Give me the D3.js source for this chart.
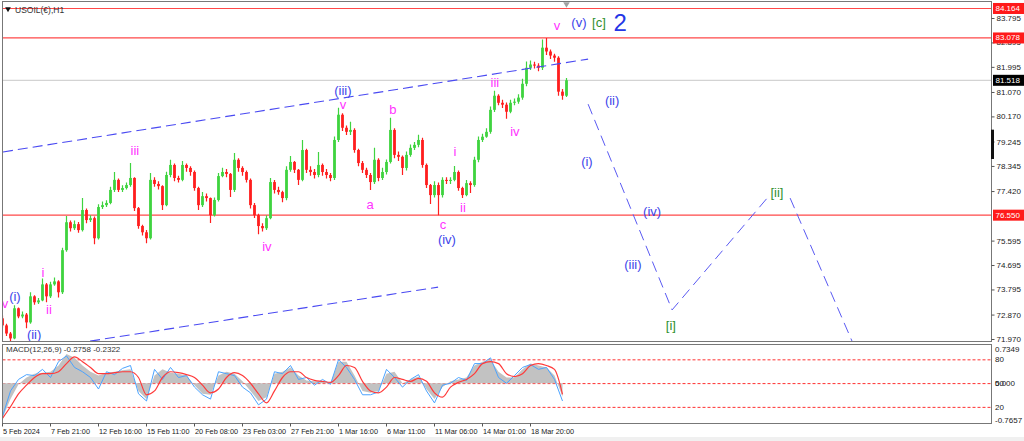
<!DOCTYPE html>
<html><head><meta charset="utf-8">
<script src="https://cdn.jsdelivr.net/npm/d3@7"></script>
<style>html,body{margin:0;padding:0;background:#fff;}svg{display:block;}</style>
</head><body>
<svg id="c" width="1024" height="441"></svg>
<script>
// ---------- DATA ----------
const firstOpen = 72.75;
const closes = [72.49,72.19,72.01,73.12,72.82,72.89,72.60,73.56,73.34,73.41,
74.00,73.56,74.00,74.11,73.71,75.26,76.29,76.07,76.22,76.00,
76.74,76.37,76.44,75.70,76.85,76.92,77.00,77.48,77.85,77.48,
77.55,77.66,77.92,76.81,76.15,75.92,75.70,77.85,77.70,77.62,
76.92,78.03,78.40,77.92,77.85,78.40,78.29,78.14,77.55,76.92,
77.25,77.18,76.55,77.11,77.99,78.14,78.07,77.48,78.59,78.29,
78.14,77.85,76.92,76.55,76.15,76.07,76.44,77.77,77.48,77.40,
77.18,78.22,78.51,78.22,77.85,78.95,78.22,78.14,78.03,78.40,
78.14,78.03,77.92,79.32,80.25,79.77,79.62,79.69,78.95,78.47,
78.22,78.03,77.77,78.59,77.92,78.14,78.51,79.69,78.77,78.70,
78.29,78.77,79.03,79.14,79.32,78.40,77.66,77.29,77.66,77.29,
77.85,77.81,77.85,78.14,77.55,77.29,77.73,77.66,78.59,79.32,
79.44,79.62,80.43,80.95,80.69,80.62,80.36,80.69,80.73,80.88,
81.39,81.98,82.10,82.06,81.98,82.72,82.58,82.43,82.35,81.10,
80.95,81.52];
const highs = [72.85,72.55,72.25,73.23,73.15,73.00,72.95,73.71,73.60,73.50,
74.22,74.05,74.10,74.25,74.15,75.35,76.52,76.35,76.35,76.30,
77.18,76.80,76.55,76.50,76.95,77.05,77.10,77.60,78.14,77.90,
77.65,77.75,78.47,77.95,76.85,76.20,76.00,78.10,77.95,77.80,
77.65,78.15,78.59,78.45,78.00,78.55,78.45,78.35,78.20,77.60,
77.40,77.35,77.20,77.20,78.10,78.30,78.25,78.10,78.84,78.65,
78.35,78.20,77.90,77.00,76.60,76.25,76.55,77.92,77.85,77.60,
77.45,78.35,78.73,78.55,78.25,79.32,79.00,78.35,78.25,78.88,
78.45,78.25,78.10,79.45,80.51,80.30,79.85,79.99,79.75,79.00,
78.55,78.30,78.10,79.03,78.65,78.30,78.60,80.14,79.75,78.90,
78.75,78.90,79.15,79.25,79.51,79.40,78.45,77.70,77.80,77.75,
77.95,77.95,77.95,78.36,78.20,77.60,77.85,77.80,78.70,79.45,
79.55,79.75,80.55,81.13,81.00,80.80,80.70,80.80,80.85,81.00,
81.58,82.21,82.25,82.20,82.15,83.02,83.08,82.65,82.50,82.40,
81.20,81.60];
const lows = [72.40,72.10,71.90,71.98,72.75,72.75,72.38,72.55,73.25,73.28,
73.38,73.34,73.50,73.95,73.52,73.65,75.20,75.95,76.00,75.90,
75.95,76.25,76.30,75.48,75.65,76.78,76.85,76.95,77.40,77.40,
77.40,77.50,77.60,76.70,76.05,75.80,75.52,75.65,77.60,77.50,
76.74,76.88,77.95,77.80,77.75,77.80,78.15,78.00,77.45,76.74,
76.85,77.05,76.26,76.50,77.05,77.95,77.95,77.22,77.40,78.15,
78.00,77.75,76.80,76.45,75.85,75.95,76.00,76.40,77.35,77.30,
77.03,77.10,78.15,78.10,77.66,77.80,78.10,78.00,77.90,77.95,
78.00,77.90,77.80,77.85,79.25,79.65,79.50,79.50,78.85,78.35,
78.10,77.92,77.48,77.70,77.80,77.85,78.05,78.45,78.65,78.55,
78.03,78.20,78.70,78.95,79.05,78.30,77.55,76.96,77.20,76.55,
77.20,77.70,77.70,77.80,77.45,77.18,77.25,77.37,77.60,78.50,
79.25,79.40,79.55,80.35,80.60,80.50,80.10,80.30,80.60,80.65,
80.80,81.30,81.90,81.95,81.85,81.90,82.45,82.30,82.20,80.95,
80.80,80.90];

const timeLabels = ["5 Feb 2024","7 Feb 21:00","12 Feb 16:00","15 Feb 11:00","20 Feb 08:00","23 Feb 03:00","27 Feb 21:00","1 Mar 16:00","6 Mar 11:00","11 Mar 06:00","14 Mar 01:00","18 Mar 20:00"];
const timeLabelBars = [0,12,24,36,48,60,72,84,96,108,120,132];
const priceTicks = [83.795,82.895,81.995,81.070,80.170,79.245,78.345,77.420,75.595,74.695,73.795,72.870,71.970];
const redLevels = [84.164,83.078,76.550];
const lastPrice = 81.518;

// MACD panel (one value every 2 bars)
const macdMain = [-0.73,-0.33,-0.02,0.12,0.20,0.22,0.24,0.37,0.61,0.53,
0.37,0.24,0.16,0.22,0.24,0.27,0.29,-0.16,-0.33,0.16,
0.29,0.22,0.20,0.16,-0.04,-0.22,-0.24,0.16,0.24,0.20,
0.04,-0.16,-0.37,-0.29,0.20,0.24,0.33,0.16,0.06,0.04,
0.04,0.00,0.45,0.45,0.16,-0.16,-0.20,-0.16,0.20,0.24,
0.00,0.08,0.14,-0.12,-0.33,-0.08,0.04,0.08,0.12,0.37,
0.45,0.49,0.24,0.12,0.12,0.29,0.41,0.37,0.33,0.16,-0.28];
const macdSignal = [-0.73,-0.49,-0.22,-0.04,0.12,0.20,0.20,0.24,0.41,0.55,
0.45,0.33,0.20,0.20,0.22,0.24,0.24,0.12,-0.24,-0.16,
0.12,0.24,0.22,0.18,0.12,-0.04,-0.20,-0.12,0.12,0.22,
0.16,0.00,-0.22,-0.41,-0.16,0.12,0.24,0.24,0.12,0.06,
0.04,0.02,0.16,0.37,0.33,0.04,-0.16,-0.20,-0.08,0.12,
0.08,0.04,0.10,0.04,-0.20,-0.29,-0.08,0.02,0.08,0.20,
0.41,0.45,0.41,0.20,0.14,0.20,0.37,0.41,0.37,0.29,-0.23];
const macdBlue = [-0.69,-0.16,0.08,0.18,0.16,0.29,0.12,0.45,0.57,0.33,
0.24,0.12,-0.12,0.24,0.18,0.31,0.37,-0.22,-0.37,0.29,
0.08,0.33,0.12,0.16,-0.08,-0.24,-0.33,0.24,0.20,0.16,
-0.08,-0.20,-0.45,-0.33,0.24,0.20,0.37,0.08,0.12,-0.04,
0.08,-0.02,0.49,0.33,0.08,-0.24,-0.24,-0.18,0.29,0.12,
-0.08,0.08,0.18,-0.16,-0.41,-0.04,0.00,0.12,0.06,0.41,
0.41,0.53,0.12,0.00,0.16,0.33,0.39,0.29,0.33,0.08,-0.37];
const macdLevels = [80,50,20];

// Elliott wave annotations (bar index, price, degree)
const waveLabels = [
 {t:"v",i:0.6,p:73.28,d:"minor"},{t:"(i)",i:3.1,p:73.57,d:"minute"},{t:"(ii)",i:7.9,p:72.17,d:"minute"},
 {t:"i",i:10.1,p:74.42,d:"minor"},{t:"ii",i:11.6,p:73.09,d:"minor"},{t:"iii",i:33.1,p:78.95,d:"minor"},
 {t:"iv",i:66.1,p:75.41,d:"minor"},{t:"(iii)",i:85.1,p:81.14,d:"minute"},{t:"v",i:85.1,p:80.62,d:"minor"},
 {t:"b",i:97.6,p:80.46,d:"minor"},{t:"a",i:91.9,p:76.96,d:"minor"},{t:"c",i:110.1,p:76.22,d:"minor"},
 {t:"(iv)",i:111.1,p:75.67,d:"minute"},{t:"i",i:113.1,p:78.88,d:"minor"},{t:"ii",i:115.1,p:76.85,d:"minor"},
 {t:"iii",i:123.1,p:81.42,d:"minor"},{t:"iv",i:128.1,p:79.65,d:"minor"},{t:"v",i:138.6,p:83.55,d:"minor"},
 {t:"(v)",i:144.1,p:83.66,d:"minute"},{t:"[c]",i:149.1,p:83.66,d:"minor2"},{t:"2",i:154.4,p:83.66,d:"inter"},
 {t:"(ii)",i:152.4,p:80.79,d:"minute"},{t:"(i)",i:146.1,p:78.51,d:"minute"},{t:"(iv)",i:162.4,p:76.70,d:"minute"},
 {t:"(iii)",i:157.6,p:74.75,d:"minute"},{t:"[i]",i:167.1,p:72.47,d:"minor2"},{t:"[ii]",i:193.6,p:77.37,d:"minor2"}
];
const channelUpper = [[0.125,78.88],[146.4,82.30]];
const channelLower = [[21.9,71.91],[108.9,73.90]];
const projectionA = [[146.4,80.64],[167.4,73.06],[191.4,77.22]];
const projectionB = [[196.9,77.18],[213.0,71.70]];

// ---------- DRAW ----------
const svg = d3.select("#c");
const FONT = "'Liberation Sans', Arial, sans-serif";
const x = d3.scaleLinear().domain([0,247]).range([2.5,990.5]);
const y = d3.scaleLinear().domain([71.97,83.795]).range([339.5,18.5]);
const ym = d3.scaleLinear().domain([-0.7657,0.7349]).range([420,348]);
const ylev = d3.scaleLinear().domain([0,100]).range([423.2,344]);

const L = 2.5, R = 991.5, T = 1.5, MB = 341.5, ST = 344.5, SB = 423.5;
svg.append("rect").attr("x",0).attr("y",0).attr("width",1024).attr("height",441).attr("fill","#fff");
svg.append("rect").attr("x",0).attr("y",437).attr("width",1024).attr("height",4).attr("fill","#f0f0f0");

const defs = svg.append("defs");
defs.append("clipPath").attr("id","cm").append("rect").attr("x",L).attr("y",T).attr("width",R-L).attr("height",MB-T);
defs.append("clipPath").attr("id","cs").append("rect").attr("x",L).attr("y",ST).attr("width",R-L).attr("height",SB-ST);

const gm = svg.append("g").attr("clip-path","url(#cm)");

// last price line
gm.append("line").attr("x1",L).attr("x2",R).attr("y1",y(lastPrice)).attr("y2",y(lastPrice)).attr("stroke","#c8c8c8").attr("stroke-width",1);
// red levels
gm.selectAll("line.lvl").data(redLevels).join("line").attr("class","lvl")
  .attr("x1",L).attr("x2",R).attr("y1",d=>y(d)).attr("y2",d=>y(d)).attr("stroke","#ff4848").attr("stroke-width",1.2);

// candles
const bars = closes.map((c,i)=>({i, o: i===0?firstOpen:closes[i-1], c, h: highs[i], l: lows[i]}));
const up = "#3fd33f", dn = "#ff1e1e";
const cg = gm.append("g");
cg.selectAll("line").data(bars).join("line")
  .attr("x1",d=>x(d.i)).attr("x2",d=>x(d.i)).attr("y1",d=>y(d.h)).attr("y2",d=>y(d.l))
  .attr("stroke",d=>d.c>=d.o?up:dn).attr("stroke-width",1.2);
cg.selectAll("rect").data(bars).join("rect")
  .attr("x",d=>x(d.i)-1.5).attr("width",3)
  .attr("y",d=>y(Math.max(d.o,d.c))).attr("height",d=>Math.max(1,Math.abs(y(d.o)-y(d.c))))
  .attr("fill",d=>d.c>=d.o?up:dn).attr("opacity",0.9);

// dashed lines
const line = d3.line().x(d=>x(d[0])).y(d=>y(d[1]));
[channelUpper,channelLower].forEach(pts=>{
  gm.append("path").attr("d",line(pts)).attr("fill","none").attr("stroke","#4a4af2").attr("stroke-width",1.1).attr("stroke-dasharray","10,5");
});
[projectionA,projectionB].forEach(pts=>{
  gm.append("path").attr("d",line(pts)).attr("fill","none").attr("stroke","#5a5af2").attr("stroke-width",1).attr("stroke-dasharray","11,6");
});

// wave labels
const degColor = {minor:"#ff33ff", minute:"#3c44ea", minor2:"#2f8f2f", inter:"#2436e6"};
const degSize = {minor:13, minute:13, minor2:13, inter:24};
gm.selectAll("text.w").data(waveLabels).join("text").attr("class","w")
  .attr("x",d=>x(d.i)).attr("y",d=>y(d.p)).attr("text-anchor","middle").attr("dominant-baseline","central")
  .attr("font-family",FONT).attr("font-size",d=>degSize[d.d]).attr("fill",d=>degColor[d.d]).text(d=>d.t);

// title
svg.append("path").attr("d",d3.symbol().type(d3.symbolTriangle).size(14)()).attr("transform","translate(8,9) rotate(180)").attr("fill","#111");
svg.append("text").attr("x",15).attr("y",12.5).attr("font-family",FONT).attr("font-size",8.5).attr("fill","#333").text("USOIL(€),H1");
// shift marker
svg.append("path").attr("d",d3.symbol().type(d3.symbolTriangle).size(18)()).attr("transform",`translate(${x(141)},4) rotate(180)`).attr("fill","#a0a0a0");

// ---- MACD panel
const gs = svg.append("g").attr("clip-path","url(#cs)");
gs.selectAll("line.ml").data(macdLevels).join("line").attr("class","ml")
  .attr("x1",L).attr("x2",R).attr("y1",d=>ylev(d)).attr("y2",d=>ylev(d))
  .attr("stroke","#ff3030").attr("stroke-width",1).attr("stroke-dasharray","3,2");
const area = d3.area().x((d,k)=>x(2*k)).y0(ym(0)).y1(d=>ym(d)).curve(d3.curveLinear);
gs.append("path").attr("d",area(macdMain)).attr("fill","#c2c2c2");
const ml = d3.line().x((d,k)=>x(2*k)).y(d=>ym(d));
gs.append("path").attr("d",ml(macdBlue)).attr("fill","none").attr("stroke","#4aa3ff").attr("stroke-width",1);
gs.append("path").attr("d",d3.line().x((d,k)=>x(2*k)).y(d=>ym(d)).curve(d3.curveMonotoneX)(macdSignal)).attr("fill","none").attr("stroke","#ff3a3a").attr("stroke-width",1.2);
svg.append("text").attr("x",6).attr("y",352).attr("font-family",FONT).attr("font-size",8).attr("fill","#333").text("MACD(12,26,9) -0.2758 -0.2322");

// frames
svg.append("rect").attr("x",L).attr("y",T).attr("width",R-L).attr("height",MB-T).attr("fill","none").attr("stroke","#777");
svg.append("rect").attr("x",L).attr("y",ST).attr("width",R-L).attr("height",SB-ST).attr("fill","none").attr("stroke","#777");

// right price axis
const ax = svg.append("g").attr("font-family",FONT).attr("font-size",8).attr("fill","#222");
const fmt = d3.format(".3f");
ax.selectAll("line.t").data(priceTicks).join("line").attr("class","t")
  .attr("x1",R).attr("x2",R+3).attr("y1",d=>y(d)).attr("y2",d=>y(d)).attr("stroke","#555");
ax.selectAll("text.t").data(priceTicks).join("text").attr("class","t")
  .attr("x",R+5).attr("y",d=>y(d)).attr("dominant-baseline","central").text(d=>fmt(d));
// price boxes
const boxes = redLevels.map(v=>({v,bg:"#ff1a1a"})).concat([{v:lastPrice,bg:"#000"}]);
const bx = ax.selectAll("g.b").data(boxes).join("g").attr("class","b");
bx.append("rect").attr("x",R+1.5).attr("width",31).attr("y",d=>y(d.v)-5.5).attr("height",11).attr("fill",d=>d.bg);
bx.append("text").attr("x",R+4).attr("y",d=>y(d.v)).attr("dominant-baseline","central").attr("fill","#fff").text(d=>fmt(d.v));
// scale drag bar
svg.append("rect").attr("x",R-0.5).attr("y",y(79.70)).attr("width",3).attr("height",y(78.62)-y(79.70)).attr("fill","#111");

// MACD axis labels
const macdAxis = [{t:"0.7349",y:ym(0.7349)+1},{t:"80",y:ylev(80)},{t:"50",y:ylev(50)},{t:"0.000",y:ym(0)},{t:"20",y:ylev(20)},{t:"-0.7657",y:ym(-0.7657)}];
ax.selectAll("text.m").data(macdAxis).join("text").attr("class","m")
  .attr("x",R+3.5).attr("y",d=>d.y).attr("dominant-baseline","central").text(d=>d.t);

// time axis
const tx = svg.append("g").attr("font-family",FONT).attr("font-size",7.3).attr("fill","#222");
tx.selectAll("line").data(timeLabelBars).join("line")
  .attr("x1",d=>x(d)).attr("x2",d=>x(d)).attr("y1",SB).attr("y2",SB+3).attr("stroke","#555");
tx.selectAll("text").data(timeLabels).join("text")
  .attr("x",(d,k)=>x(timeLabelBars[k])+0.5).attr("y",434).text(d=>d);
</script>
</body></html>
